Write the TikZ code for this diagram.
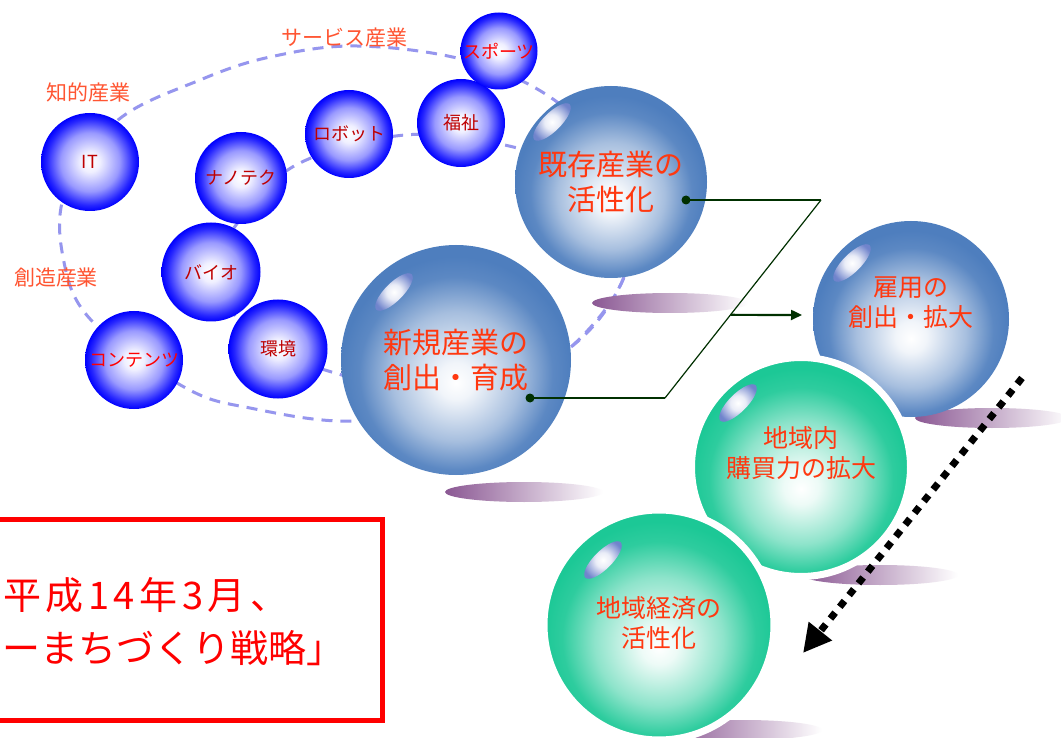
\documentclass[tikz,border=0pt]{standalone}
\usepackage{fontspec}
\setmainfont{Noto Sans CJK JP}
\usetikzlibrary{arrows.meta, calc, positioning}

\definecolor{fieldblue}{RGB}{150,150,238}
\definecolor{steelball}{RGB}{78,126,190}
\definecolor{mintball}{RGB}{28,200,150}
\definecolor{glint}{RGB}{112,132,204}
\definecolor{shadowviolet}{RGB}{118,58,128}
\definecolor{ballred}{RGB}{190,0,0}
\definecolor{titlered}{RGB}{255,56,16}
\definecolor{fieldred}{RGB}{255,85,50}
\definecolor{pathgreen}{RGB}{0,48,0}

\pgfdeclareradialshading{smallshade}{\pgfpoint{0bp}{0bp}}{color(0bp)=(white); color(5bp)=(white!94!blue); color(15bp)=(blue!40!white); color(22bp)=(blue!85!white); color(25bp)=(blue); color(50bp)=(blue)}
\pgfdeclareradialshading{blueshade}{\pgfpoint{0bp}{-5bp}}{color(0bp)=(white); color(4bp)=(white!92!steelball); color(14bp)=(steelball!50!white); color(21bp)=(steelball!92!white); color(25bp)=(steelball); color(50bp)=(steelball)}
\pgfdeclareradialshading{greenshade}{\pgfpoint{0bp}{-5bp}}{color(0bp)=(white); color(4bp)=(white!92!mintball); color(14bp)=(mintball!50!white); color(21bp)=(mintball!92!white); color(25bp)=(mintball); color(50bp)=(mintball)}
\pgfdeclareradialshading{glintshade}{\pgfpoint{0bp}{0bp}}{color(0bp)=(white); color(9bp)=(white!85!glint); color(25bp)=(glint); color(50bp)=(glint)}

\tikzset{
  smallbubble/.style={circle, inner sep=0pt, shading=smallshade, text=ballred, font=\fontsize{18}{20}\selectfont},
  bluebubble/.style={circle, inner sep=0pt, shading=blueshade},
  greenbubble/.style={circle, inner sep=0pt, shading=greenshade, draw=white, line width=7pt},
  balltext/.style={align=center, text=titlered, inner sep=0pt},
  bigtext/.style={font=\fontsize{29}{35}\selectfont},
  midtext/.style={font=\fontsize{25}{30}\selectfont},
  fieldlabel/.style={text=fieldred, inner sep=0pt, font=\fontsize{21}{24}\selectfont},
  fieldline/.style={draw=fieldblue, line width=3pt, dash pattern=on 11pt off 8pt},
  shadowblob/.style={left color=shadowviolet!85!white, right color=white},
  conn/.style={draw=pathgreen, line width=2.2pt},
  flowarrow/.style={line width=7pt, dash pattern=on 7.5pt off 7.5pt, -{Triangle[length=28pt, width=28pt]}},
  redbox/.style={draw=red, line width=5pt, minimum width=402pt, minimum height=201pt},
  boxtext/.style={text=red, inner sep=0pt, anchor=west, font=\fontsize{38}{44}\selectfont}
}

\begin{document}
\begin{tikzpicture}[x=1pt, y=-1pt]
\clip (0,0) rectangle (1061,738);
\fill[white] (0,0) rectangle (1061,738);

% industry fields
\draw[fieldline] plot[smooth cycle, tension=0.6] coordinates {(357,46) (465,60) (550,97) (610,158) (630,235) (618,290) (571,347) (480,398) (357,421) (250,408) (184,387) (91,320) (63,257) (66,190) (118,120) (200,80) (270,57)};
\draw[fieldline] plot[smooth cycle, tension=0.6] coordinates {(236,225) (215,272) (240,322) (280,352) (335,373) (430,396) (520,378) (571,347) (618,290) (630,235) (600,180) (509,146) (405,135) (296,165)};

% shadows
\shade[shadowblob] (670,303) ellipse [x radius=78, y radius=10];
\shade[shadowblob] (524,492) ellipse [x radius=79, y radius=10];
\shade[shadowblob] (992,418) ellipse [x radius=77, y radius=10];
\shade[shadowblob] (880,575) ellipse [x radius=78, y radius=10];
\shade[shadowblob] (744,730) ellipse [x radius=78, y radius=10];

% small bubbles
\node[smallbubble, minimum size=98pt] (it) at (90,162) {IT};
\node[smallbubble, minimum size=92pt] (nanotech) at (241,178) {ナノテク};
\node[smallbubble, minimum size=88pt] (robot) at (349,134) {ロボット};
\node[smallbubble, minimum size=88pt] (welfare) at (461,123) {福祉};
\node[smallbubble, minimum size=77pt, text=red] (sports) at (499,51) {\makebox[0pt]{スポーツ}};
\node[smallbubble, minimum size=99pt] (bio) at (211,272) {バイオ};
\node[smallbubble, minimum size=99pt] (environ) at (278,349) {環境};
\node[smallbubble, minimum size=98pt, text=red] (contents) at (134,360) {\makebox[0pt]{コンテンツ}};

% big bubbles
\node[bluebubble, minimum size=192pt] (kizon) at (611,182) {};
\node[bluebubble, minimum size=230pt] (shinki) at (456,360) {};
\node[bluebubble, minimum size=196pt] (koyou) at (911,319) {};
\node[greenbubble, minimum size=219pt] (kounai) at (801,467) {};
\node[greenbubble, minimum size=230pt] (keizai) at (659,625) {};

% glints
\foreach \ball/\dx/\dy in {kizon/-59/-60, shinki/-62/-68, koyou/-59/-56, kounai/-63/-64, keizai/-56/-65}
{
  \coordinate (g) at ($(\ball)+(\dx,\dy)$);
  \shade[shading=glintshade, rotate around={45:(g)}] (g) ellipse [x radius=25, y radius=9];
}

% texts
\node[balltext, bigtext] (kizontext) at (kizon) {既存産業の\\活性化};
\node[balltext, bigtext] (shinkitext) at (shinki) {新規産業の\\創出・育成};
\node[balltext, midtext] (koyoutext) at ($(koyou)+(0,-16)$) {雇用の\\創出・拡大};
\node[balltext, midtext] (kounaitext) at ($(kounai)+(0,-14)$) {地域内\\購買力の拡大};
\node[balltext, midtext] (keizaitext) at ($(keizai)+(0,-2)$) {地域経済の\\活性化};

\node[fieldlabel] (chiteki) at (88,92) {知的産業};
\node[fieldlabel] (service) at (344,38) {サービス産業};
\node[fieldlabel] (souzou) at (56,278) {創造産業};

% connectors
\coordinate (kizondot) at ($(kizon)+(75,18)$);
\coordinate (shinkidot) at ($(shinki)+(74,38)$);
\coordinate (turntop) at (821,200);
\coordinate (turnbottom) at (665,398);
\coordinate (koyouin) at (802,315);
\fill[pathgreen] (kizondot) circle [radius=4.5];
\fill[pathgreen] (shinkidot) circle [radius=4.5];
\draw[conn] (kizondot) -- (turntop);
\draw[conn, line width=1.2pt] (turntop) -- (turnbottom);
\draw[conn] (turnbottom) -- (shinkidot);
\draw[conn, -{Triangle[length=11pt, width=10pt]}] ($(turntop)!0.58!(turnbottom)$) -- (koyouin);

\coordinate (flowstart) at (1022,378);
\coordinate (flowend) at (803,653);
\draw[flowarrow] (flowstart) -- (flowend);

% plan box
\node[redbox] (planbox) at (181,619.5) {};
\node[boxtext] (planline1) at (3,595) {\addfontfeature{LetterSpace=12}平成14年3月、};
\node[boxtext] (planline2) at (2,648) {ーまちづくり戦略」};
\end{tikzpicture}
\end{document}
